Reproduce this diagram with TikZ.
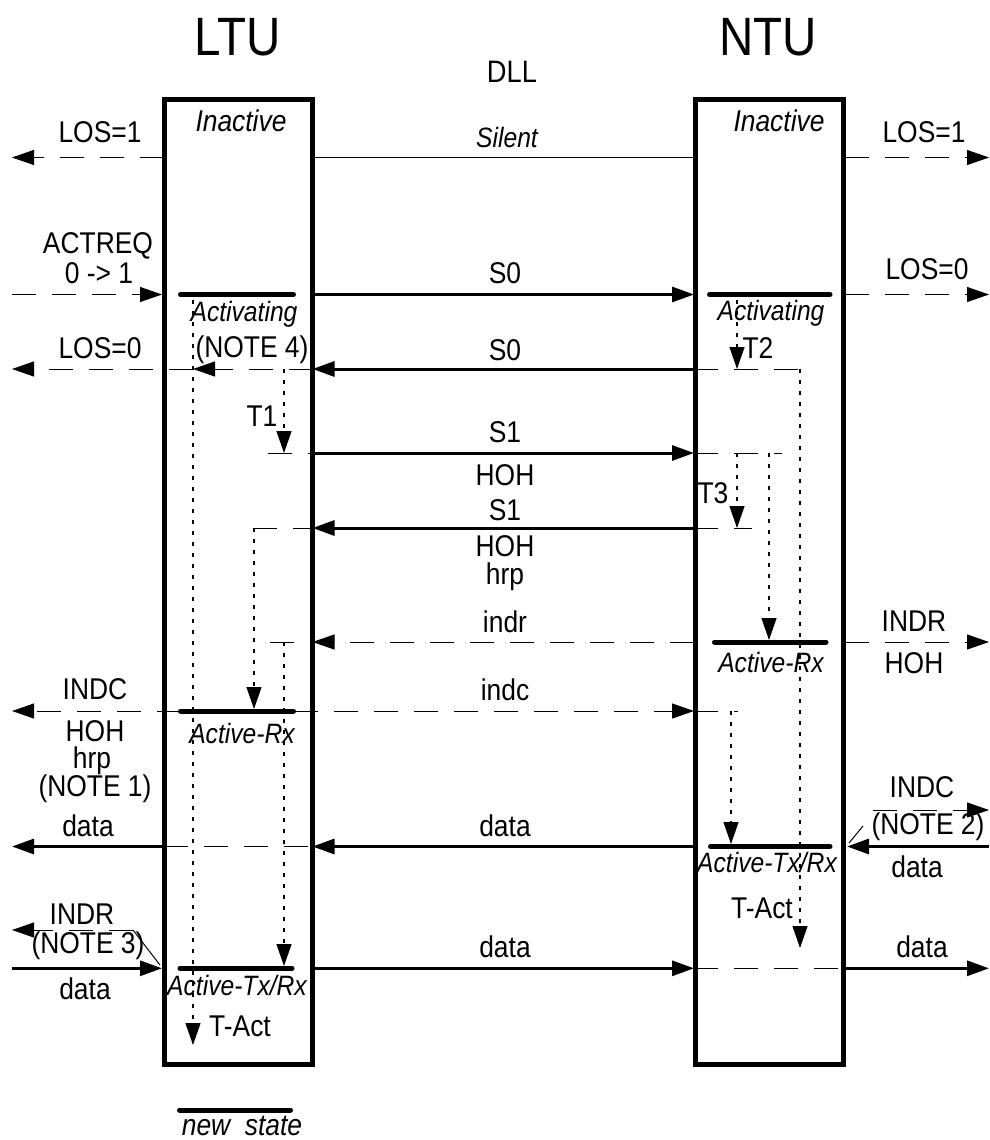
\documentclass[tikz,border=0pt]{standalone}
\usepackage{fontspec}
\setmainfont{Liberation Sans}[FakeStretch=0.88]
\usetikzlibrary{arrows.meta}
\begin{document}
\begin{tikzpicture}[x=1pt,y=-1pt,
  boxst/.style={draw, line width=5pt, minimum width=148.5pt, minimum height=964.5pt, inner sep=0pt, outer sep=0pt},
  lab/.style={inner sep=0pt, font=\fontsize{30}{32}\selectfont},
  stl/.style={inner sep=0pt, font=\fontsize{28}{30}\selectfont\itshape},
  ital/.style={inner sep=0pt, font=\fontsize{30}{32}\selectfont\itshape},
  ttl/.style={inner sep=0pt, font=\fontsize{54}{56}\selectfont},
  arr/.style={-{Triangle[length=22pt,width=15pt]}},
  thk/.style={line width=3pt, arr},
  thn/.style={line width=1pt},
  dsh/.style={line width=1pt, dash pattern=on 24pt off 16pt},
  dotl/.style={line width=1.2pt, dash pattern=on 4pt off 7pt},
  sbar/.style={line width=5pt, line cap=round}]
\useasboundingbox (0,0) rectangle (990,1140);

% boxes
\node[boxst] (ltu) at (238.25,581.75) {};
\node[boxst] (ntu) at (769.5,581.75) {};

% titles
\node[ttl] (tL) at (238,37) {LTU};
\node[ttl] (tN) at (768,37) {NTU};
\node[inner sep=0pt, font=\fontsize{31}{33}\selectfont] (tD) at (512,72) {DLL};

% ---------- coordinates ----------
% row 1
\coordinate (a0) at (12,157.5);  \coordinate (a1) at (164,157.5);
\coordinate (a2) at (312.5,157.5); \coordinate (a3) at (694,157.5);
\coordinate (a4) at (845,157.5); \coordinate (a5) at (989,157.5);
% row 2
\coordinate (b0) at (12,294.5);  \coordinate (b1) at (162,294.5);
\coordinate (b2) at (312.5,294.5); \coordinate (b3) at (694,294.5);
\coordinate (b4) at (845,294.5); \coordinate (b5) at (989,294.5);
\coordinate (bL1) at (180.5,294.5); \coordinate (bL2) at (293.5,294.5);
\coordinate (bN1) at (709.5,294.5); \coordinate (bN2) at (830,294.5);
% row 3
\coordinate (c0) at (12,369); \coordinate (c1) at (193,369);
\coordinate (c2) at (312.5,369); \coordinate (c3) at (694,369);
\coordinate (c4) at (813,369); \coordinate (c5) at (284,369);
\coordinate (c6) at (737,369); \coordinate (c7) at (800,369);
% row 4
\coordinate (d0) at (268,453); \coordinate (d1) at (312.5,453);
\coordinate (d2) at (694,453); \coordinate (d3) at (782,453);
\coordinate (d4) at (284,453); \coordinate (d5) at (737,453);
\coordinate (d6) at (769,453);
% row 5
\coordinate (e0) at (253,528); \coordinate (e1) at (312.5,528);
\coordinate (e2) at (694,528); \coordinate (e3) at (752,528);
\coordinate (e4) at (737,528); \coordinate (e5) at (254,528);
% row 6
\coordinate (f0) at (270,642); \coordinate (f1) at (312.5,642);
\coordinate (f2) at (694,642); \coordinate (f3) at (845,642);
\coordinate (f4) at (989,642); \coordinate (f5) at (284,642);
\coordinate (f6) at (769,640);
\coordinate (fN1) at (714.5,642); \coordinate (fN2) at (826,642);
% row 7
\coordinate (g0) at (12,711); \coordinate (g1) at (180.5,711);
\coordinate (g2) at (293.5,711); \coordinate (g3) at (694,711);
\coordinate (g4) at (738,711); \coordinate (g5) at (254,709);
\coordinate (g6) at (731,711);
% row 8
\coordinate (h0) at (12,846.5); \coordinate (h1) at (164,846.5);
\coordinate (h2) at (312.5,846.5); \coordinate (h3) at (694,846.5);
\coordinate (h4) at (847,846.5); \coordinate (h5) at (989,846.5);
\coordinate (h6) at (731,844);
\coordinate (hN1) at (710.5,846.5); \coordinate (hN2) at (830,846.5);
\coordinate (n2a) at (873,810); \coordinate (n2b) at (989,810);
\coordinate (n2c) at (849,843); \coordinate (n2d) at (863,826);
% row 9
\coordinate (i0) at (12,968.3); \coordinate (i1) at (162,968.3);
\coordinate (i2) at (312.5,968.3); \coordinate (i3) at (694,968.3);
\coordinate (i4) at (845,968.3); \coordinate (i5) at (989,968.3);
\coordinate (i6) at (284,966);
\coordinate (iL1) at (180,968.3); \coordinate (iL2) at (292,968.3);
\coordinate (n3a) at (133,930); \coordinate (n3b) at (12,930);
\coordinate (n3c) at (160,965);
% dotted timers
\coordinate (k1s) at (193,300); \coordinate (k1e) at (193,1045);
\coordinate (k5s) at (737,300);
\coordinate (k8e) at (800,948);
% legend
\coordinate (lg1) at (179.5,1110); \coordinate (lg2) at (290.5,1110);

% ---------- connectors ----------
% row 1
\draw[dsh,arr] (a1) -- (a0);
\draw[thn] (a2) -- (a3);
\draw[dsh,arr] (a4) -- (a5);
% row 2
\draw[dsh,arr] (b0) -- (b1);
\draw[thk] (b2) -- (b3);
\draw[dsh,arr] (b4) -- (b5);
\draw[sbar] (bL1) -- (bL2);
\draw[sbar] (bN1) -- (bN2);
% row 3
\draw[thk] (c3) -- (c2);
\draw[dsh,arr] (c2) -- (c1);
\draw[dsh,arr] (c1) -- (c0);
\draw[dsh] (c3) -- (c4);
% row 4
\draw[dsh] (d0) -- (d1);
\draw[thk] (d1) -- (d2);
\draw[dsh] (d2) -- (d3);
% row 5
\draw[dsh] (e0) -- (e1);
\draw[thk] (e2) -- (e1);
\draw[dsh] (e2) -- (e3);
% row 6
\draw[dsh] (f0) -- (f1);
\draw[dsh,arr] (f2) -- (f1);
\draw[dsh,arr] (f3) -- (f4);
\draw[sbar] (fN1) -- (fN2);
% row 7
\draw[dsh,arr] (g1) -- (g0);
\draw[dsh,arr] (g2) -- (g3);
\draw[dsh] (g3) -- (g4);
\draw[sbar] (g1) -- (g2);
% row 8
\draw[thk] (h1) -- (h0);
\draw[dsh] (h1) -- (h2);
\draw[thk] (h3) -- (h2);
\draw[thk] (h5) -- (h4);
\draw[sbar] (hN1) -- (hN2);
\draw[dsh,arr] (n2a) -- (n2b);
\draw[thn] (n2c) -- (n2d);
% row 9
\draw[thk] (i0) -- (i1);
\draw[thk] (i2) -- (i3);
\draw[dsh] (i3) -- (i4);
\draw[thk] (i4) -- (i5);
\draw[sbar] (iL1) -- (iL2);
\draw[dsh,arr] (n3a) -- (n3b);
\draw[thn] (n3a) -- (n3c);
% dotted timers
\draw[dotl,arr] (k1s) -- (k1e);
\draw[dotl,arr] (c5) -- (d4);
\draw[dotl,arr] (e5) -- (g5);
\draw[dotl,arr] (f5) -- (i6);
\draw[dotl,arr] (k5s) -- (c6);
\draw[dotl,arr] (d5) -- (e4);
\draw[dotl,arr] (d6) -- (f6);
\draw[dotl,arr] (c7) -- (k8e);
\draw[dotl,arr] (g6) -- (h6);
% legend
\draw[sbar] (lg1) -- (lg2);

% ---------- labels ----------
\node[ital] (inL) at (241,121) {Inactive};
\node[ital] (inR) at (779,121) {Inactive};
\node[stl] (sil) at (507,137) {Silent};
\node[lab] (los1L) at (100,132) {LOS=1};
\node[lab] (los1R) at (924,132) {LOS=1};
\node[lab] (actreq) at (98,246) {ACTREQ};
\node[lab] (zto) at (99,273) {0 -> 1};
\node[lab] (s0a) at (505,273) {S0};
\node[lab] (los0R) at (927,269) {LOS=0};
\node[stl] (actL) at (244,314) {Activating};
\node[stl] (actR) at (771,313) {Activating};
\node[lab] (los0L) at (100,348) {LOS=0};
\node[lab] (note4) at (252,350) {(NOTE 4)};
\node[lab] (s0b) at (505,350) {S0};
\node[lab] (lT2) at (758,348) {T2};
\node[lab] (lT1) at (262,416) {T1};
\node[lab] (s1a) at (505,432) {S1};
\node[lab] (hoh1) at (505,475) {HOH};
\node[lab] (lT3) at (713,493) {T3};
\node[lab] (s1b) at (505,510) {S1};
\node[lab] (hoh2) at (505,546) {HOH};
\node[lab] (hrp1) at (505,577) {hrp};
\node[lab] (indr) at (505,622) {indr};
\node[lab] (INDRr) at (914,621) {INDR};
\node[lab] (HOHr) at (914,663) {HOH};
\node[stl] (arxR) at (771,662) {Active-Rx};
\node[lab] (INDCl) at (95,689) {INDC};
\node[lab] (indc) at (505,690) {indc};
\node[stl] (arxL) at (242,733) {Active-Rx};
\node[lab] (HOHl) at (95,731) {HOH};
\node[lab] (hrpl) at (92,761) {hrp};
\node[lab] (note1) at (95,789) {(NOTE 1)};
\node[lab] (datal) at (88,826) {data};
\node[lab] (datam) at (505,826) {data};
\node[lab] (INDCr) at (922,787) {INDC};
\node[lab] (note2) at (928,827) {(NOTE 2)};
\node[lab] (datar) at (917,867) {data};
\node[stl] (atxR) at (767,862) {Active-Tx/Rx};
\node[lab] (TActR) at (762,908) {T-Act};
\node[lab] (INDRl) at (82,914) {INDR};
\node[lab] (note3) at (88,946) {(NOTE 3)};
\node[lab] (datam2) at (505,947) {data};
\node[lab] (datar2) at (922,947) {data};
\node[stl] (atxL) at (237,985) {Active-Tx/Rx};
\node[lab] (datal2) at (85,989) {data};
\node[lab] (TActL) at (240,1026) {T-Act};
\node[ital] (newst) at (242,1126) {new\ \ state};
\end{tikzpicture}
\end{document}
